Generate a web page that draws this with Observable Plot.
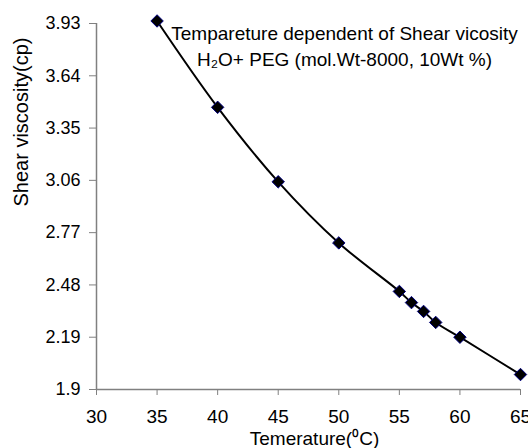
<!DOCTYPE html>
<html>
<head>
<meta charset="utf-8">
<script src="https://cdn.jsdelivr.net/npm/d3@7"></script>
<script src="https://cdn.jsdelivr.net/npm/@observablehq/plot@0.6"></script>
<style>
  html, body { margin: 0; padding: 0; background: #fff; }
  #chart svg { display: block; }
</style>
</head>
<body>
<div id="chart"></div>
<script>
const temperature = [35, 40, 45, 50, 55, 56, 57, 58, 60, 65];
const viscosity = [3.944, 3.465, 3.052, 2.713, 2.444, 2.382, 2.333, 2.272, 2.19, 1.983];
const xTicks = [30, 35, 40, 45, 50, 55, 60, 65];
const yTicks = [1.9, 2.19, 2.48, 2.77, 3.06, 3.35, 3.64, 3.93];
const titleLines = ["Tempareture dependent of Shear vicosity", "H\u2082O+ PEG (mol.Wt-8000, 10Wt %)"];
const xLabel = "Temerature(\u2070C)";
const yLabel = "Shear viscosity(cp)";

const data = temperature.map((t, i) => ({t, v: viscosity[i]}));

const chart = Plot.plot({
  width: 528,
  height: 448,
  marginLeft: 96,
  marginRight: 8,
  marginTop: 23,
  marginBottom: 59,
  style: {fontFamily: "'Liberation Sans', Arial, sans-serif", fontSize: "19px", color: "#000", background: "#fff"},
  x: {domain: [30, 65]},
  y: {domain: [1.9, 3.93]},
  marks: [
    Plot.axisX({ticks: xTicks, tickSize: 6, tickPadding: 14, tickFormat: d => String(d), stroke: "#808080", fill: "#000", fontSize: 19, label: null}),
    Plot.axisY({ticks: yTicks, tickSize: 7, tickPadding: 9, tickFormat: d => String(d), stroke: "#808080", fill: "#000", fontSize: 18, label: null}),
    Plot.text([xLabel], {frameAnchor: "bottom", dx: 6, dy: 55, lineAnchor: "bottom", fontSize: 19, fill: "#000"}),
    Plot.text([yLabel], {frameAnchor: "left", dx: -69, rotate: -90, lineAnchor: "bottom", fontSize: 20, fill: "#000"}),
    Plot.ruleY([1.9], {stroke: "#808080", strokeWidth: 1.5}),
    Plot.ruleX([30], {stroke: "#808080", strokeWidth: 1.5}),
    Plot.line(data, {x: "t", y: "v", curve: "catmull-rom", stroke: "#000", strokeWidth: 2}),
    Plot.dot(data, {x: "t", y: "v", symbol: "diamond2", r: 5.6, fill: "#000", stroke: "#000080", strokeWidth: 1}),
    Plot.text([titleLines.join("\n")], {frameAnchor: "top", dx: 36, dy: -2, fontSize: 19, lineHeight: 1.37, fill: "#000", textAnchor: "middle"})
  ]
});
document.getElementById("chart").appendChild(chart);
</script>
</body>
</html>
